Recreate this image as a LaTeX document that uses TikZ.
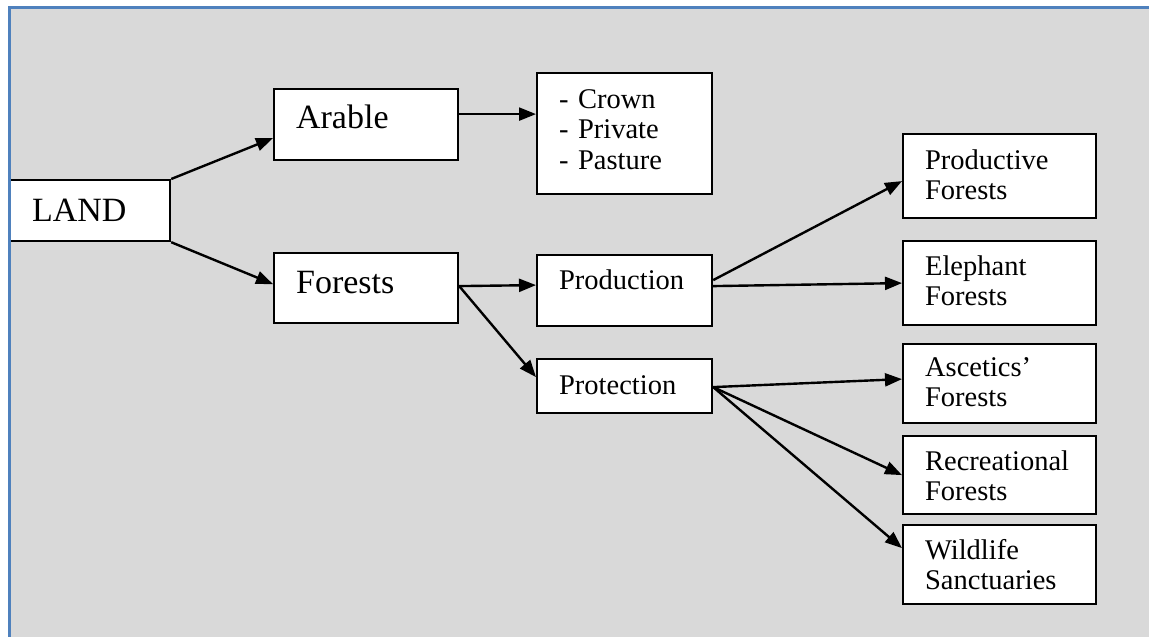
\documentclass[tikz,border=0pt]{standalone}
\usepackage{fontspec}
\setmainfont{Liberation Serif}
\usetikzlibrary{arrows.meta}
\definecolor{bggray}{HTML}{D9D9D9}
\definecolor{frameblue}{HTML}{4F81BD}

\begin{document}
\begin{tikzpicture}[
  x=1pt, y=-1pt,
  box/.style={draw, line width=2.2pt, fill=white, anchor=north west,
              inner ysep=0pt, inner xsep=22pt, align=left},
  big/.style={box, font=\fontsize{34}{37}\selectfont},
  small/.style={box, font=\fontsize{28.5}{30.5}\selectfont},
  arr/.style={-{Triangle[length=17pt,width=13pt]}, line width=2.4pt}
]
  \useasboundingbox[fill=white] (0,0) rectangle (1149,637);
  \fill[bggray] (9,7) rectangle (1149,637);

  % first level
  \node[big, text width=116pt, text height=41pt, text depth=20pt] (land) at (9,179) {LAND};
  \node[big, text width=140pt, text height=39pt, text depth=32pt] (arable) at (273,88) {Arable};
  \node[big, text width=140pt, text height=40pt, text depth=30pt] (forests) at (273,252) {Forests};

  % second level
  \node[small, text width=131pt, text height=35pt, text depth=86pt] (tenure) at (536,72) {- Crown\\- Private\\- Pasture};
  \node[small, text width=131pt, text height=34pt, text depth=37pt] (production) at (536,254) {Production};
  \node[small, text width=131pt, text height=35pt, text depth=19pt] (protection) at (536,358) {Protection};

  % forest classes
  \node[small, text width=149pt, text height=35pt, text depth=49pt] (productive) at (902,133) {Productive\\Forests};
  \node[small, text width=149pt, text height=34pt, text depth=50pt] (elephant) at (902,240) {Elephant\\Forests};
  \node[small, text width=149pt, text height=32pt, text depth=47pt] (ascetics) at (902,343) {Ascetics'\\Forests};
  \node[small, text width=149pt, text height=34pt, text depth=44pt] (recreational) at (902,435) {Recreational\\Forests};
  \node[small, text width=149pt, text height=34pt, text depth=45pt] (wildlife) at (902,524) {Wildlife\\Sanctuaries};

  \coordinate (forests-out) at ([yshift=2pt]forests.east);
  \coordinate (protection-out) at ([yshift=-1pt]protection.east);

  \draw[arr] (land.north east) -- ([yshift=-13.5pt]arable.west);
  \draw[arr] (land.south east) -- ([yshift=4pt]forests.west);
  \draw[arr] ([yshift=10.5pt]arable.east) -- ([yshift=19.5pt]tenure.west);
  \draw[arr] (forests-out) -- ([yshift=5.5pt]production.west);
  \draw[arr] (forests-out) -- ([yshift=9pt]protection.west);
  \draw[arr] ([yshift=10.5pt]production.east) -- ([yshift=-5pt]productive.west);
  \draw[arr] ([yshift=4.5pt]production.east) -- (elephant.west);
  \draw[arr] (protection-out) -- ([yshift=4.5pt]ascetics.west);
  \draw[arr] (protection-out) -- (recreational.west);
  \draw[arr] (protection-out) -- ([yshift=16.5pt]wildlife.west);

  % frame on top
  \draw[frameblue, line width=3pt] (9,637) -- (9,7) -- (1149,7);
\end{tikzpicture}
\end{document}
